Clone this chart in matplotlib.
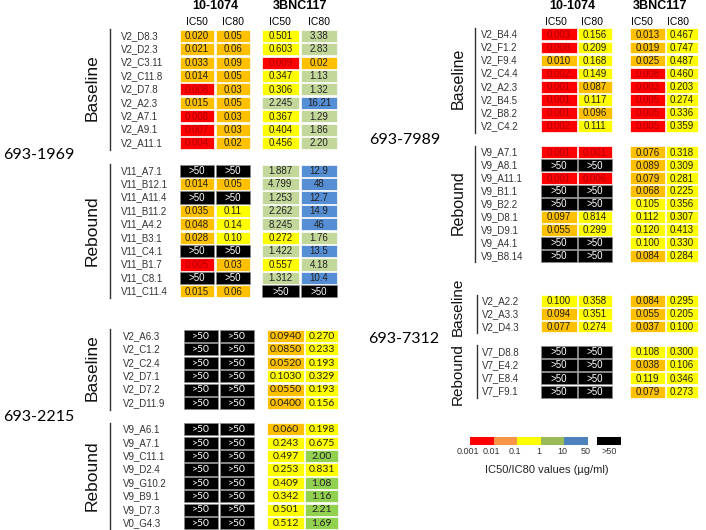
import matplotlib
matplotlib.use("Agg")
import matplotlib.pyplot as plt
from matplotlib.patches import Rectangle

# ---------------- data ----------------
p1969_base_names = ["V2_D8.3", "V2_D2.3", "V2_C3.11", "V2_C11.8", "V2_D7.8", "V2_A2.3", "V2_A7.1", "V2_A9.1", "V2_A11.1"]
p1969_base_1074_ic50 = ["0.020", "0.021", "0.033", "0.014", "0.008", "0.015", "0.008", "0.007", "0.004"]
p1969_base_1074_ic80 = ["0.05", "0.06", "0.09", "0.05", "0.03", "0.05", "0.03", "0.03", "0.02"]
p1969_base_3bnc_ic50 = ["0.501", "0.603", "0.009", "0.347", "0.306", "2.245", "0.367", "0.404", "0.456"]
p1969_base_3bnc_ic80 = ["3.38", "2.83", "0.02", "1.13", "1.32", "16.21", "1.29", "1.86", "2.20"]

p1969_reb_names = ["V11_A7.1", "V11_B12.1", "V11_A11.4", "V11_B11.2", "V11_A4.2", "V11_B3.1", "V11_C4.1", "V11_B1.7", "V11_C8.1", "V11_C11.4"]
p1969_reb_1074_ic50 = [">50", "0.014", ">50", "0.035", "0.048", "0.028", ">50", "0.005", ">50", "0.015"]
p1969_reb_1074_ic80 = [">50", "0.05", ">50", "0.11", "0.14", "0.10", ">50", "0.03", ">50", "0.06"]
p1969_reb_3bnc_ic50 = ["1.887", "4.799", "1.253", "2.262", "8.245", "0.272", "1.422", "0.557", "1.312", ">50"]
p1969_reb_3bnc_ic80 = ["12.9", "48", "12.7", "14.9", "46", "1.76", "13.5", "4.18", "10.4", ">50"]

p2215_base_names = ["V2_A6.3", "V2_C1.2", "V2_C2.4", "V2_D7.1", "V2_D7.2", "V2_D11.9"]
p2215_base_1074_ic50 = [">50"] * 6
p2215_base_1074_ic80 = [">50"] * 6
p2215_base_3bnc_ic50 = ["0.0940", "0.0850", "0.0520", "0.1030", "0.0550", "0.0400"]
p2215_base_3bnc_ic80 = ["0.270", "0.233", "0.193", "0.329", "0.193", "0.156"]

p2215_reb_names = ["V9_A6.1", "V9_A7.1", "V9_C11.1", "V9_D2.4", "V9_G10.2", "V9_B9.1", "V9_D7.3", "V0_G4.3"]
p2215_reb_1074_ic50 = [">50"] * 8
p2215_reb_1074_ic80 = [">50"] * 8
p2215_reb_3bnc_ic50 = ["0.060", "0.243", "0.497", "0.253", "0.409", "0.342", "0.501", "0.512"]
p2215_reb_3bnc_ic80 = ["0.198", "0.675", "2.00", "0.831", "1.08", "1.16", "2.21", "1.69"]

p7989_base_names = ["V2_B4.4", "V2_F1.2", "V2_F9.4", "V2_C4.4", "V2_A2.3", "V2_B4.5", "V2_B8.2", "V2_C4.2"]
p7989_base_1074_ic50 = ["0.003", "0.008", "0.010", "0.002", "0.001", "0.001", "0.001", "0.002"]
p7989_base_1074_ic80 = ["0.156", "0.209", "0.168", "0.149", "0.087", "0.117", "0.096", "0.111"]
p7989_base_3bnc_ic50 = ["0.013", "0.019", "0.025", "0.008", "0.003", "0.005", "0.005", "0.005"]
p7989_base_3bnc_ic80 = ["0.467", "0.747", "0.487", "0.460", "0.203", "0.274", "0.336", "0.359"]

p7989_reb_names = ["V9_A7.1", "V9_A8.1", "V9_A11.1", "V9_B1.1", "V9_B2.2", "V9_D8.1", "V9_D9.1", "V9_A4.1", "V9_B8.14"]
p7989_reb_1074_ic50 = ["0.001", ">50", "0.001", ">50", ">50", "0.097", "0.055", ">50", ">50"]
p7989_reb_1074_ic80 = ["0.001", ">50", "0.006", ">50", ">50", "0.814", "0.299", ">50", ">50"]
p7989_reb_3bnc_ic50 = ["0.076", "0.089", "0.079", "0.068", "0.105", "0.112", "0.120", "0.100", "0.084"]
p7989_reb_3bnc_ic80 = ["0.318", "0.309", "0.281", "0.225", "0.356", "0.307", "0.413", "0.330", "0.284"]

p7312_base_names = ["V2_A2.2", "V2_A3.3", "V2_D4.3"]
p7312_base_1074_ic50 = ["0.100", "0.094", "0.077"]
p7312_base_1074_ic80 = ["0.358", "0.351", "0.274"]
p7312_base_3bnc_ic50 = ["0.084", "0.055", "0.037"]
p7312_base_3bnc_ic80 = ["0.295", "0.205", "0.100"]

p7312_reb_names = ["V7_D8.8", "V7_E4.2", "V7_E8.4", "V7_F9.1"]
p7312_reb_1074_ic50 = [">50"] * 4
p7312_reb_1074_ic80 = [">50"] * 4
p7312_reb_3bnc_ic50 = ["0.108", "0.038", "0.119", "0.079"]
p7312_reb_3bnc_ic80 = ["0.300", "0.106", "0.346", "0.273"]

antibodies = ["10-1074", "3BNC117"]
measures = ["IC50", "IC80"]
legend_ticks = ["0.001", "0.01", "0.1", "1", "10", "50"]
legend_title = "IC50/IC80 values (\u00b5g/ml)"

# ---------------- style ----------------
ARIAL = "Liberation Sans"
CALIBRI = "Lato"
RED, ORANGE, YELLOW, BLUE, BLACK = "#FF0000", "#FFC000", "#FFFF00", "#558ED5", "#000000"
PALE_GREEN, BRIGHT_GREEN = "#C4D79B", "#92D050"
LEG_COLORS = ["#FF0000", "#F79646", "#FFFF00", "#9BBB59", "#4F81BD"]


def cell_style(s, green):
    if s.startswith(">"):
        return BLACK, "white"
    v = float(s)
    if v < 0.01:
        return RED, "#B00000"
    if v < 0.1:
        return ORANGE, "#222222"
    if v < 1:
        return YELLOW, "#222222"
    if v < 10:
        return green, "#222222"
    return BLUE, "#222222"


fig = plt.figure(figsize=(7.06, 5.30), dpi=100)
ax = fig.add_axes([0, 0, 1, 1])
ax.set_xlim(0, 706)
ax.set_ylim(530, 0)
ax.axis("off")


def draw_group(names, cols, y0, dy, label_x, cells, line_x, glabel, glabel_x, glabel_y,
               green=PALE_GREEN, cfont=ARIAL, cfs=7, gfs=12):
    ch = dy - 1.3
    for i, nm in enumerate(names):
        y = y0 + i * dy
        ax.text(label_x, y, nm, ha="left", va="center", fontsize=7, family=ARIAL, color="#333333")
        for col, (cx, cw) in zip(cols, cells):
            fc, tc = cell_style(col[i], green)
            ec = "#888888" if fc == BLACK else "white"
            ax.add_patch(Rectangle((cx, y - ch / 2), cw, ch, facecolor=fc, edgecolor=ec, lw=0.5))
            ax.text(cx + cw / 2, y + 0.3, col[i], ha="center", va="center", fontsize=cfs,
                    family=cfont, color=tc)
    ax.plot([line_x, line_x], [y0 - dy / 2, y0 + (len(names) - 0.5) * dy], color="#333333", lw=1.0)
    ax.text(glabel_x, glabel_y, glabel, rotation=90, ha="center", va="center", fontsize=gfs,
            family=ARIAL, color="#111111")


left_cells = [(180, 34), (216, 34), (262, 37), (301, 36)]
mid_cells = [(184, 34), (220, 34), (267, 37), (305, 33)]
right_cells = [(541, 36), (578, 34), (630, 35), (666, 32)]

# headers
for cx_ab, cxs, yh in [((215, 300), (197, 233, 280, 319), 6), ((572, 660), (556, 592, 642, 678), 6)]:
    for ab, x in zip(antibodies, cx_ab):
        ax.text(x, yh, ab, ha="center", va="center", fontsize=9, fontweight="bold", family=ARIAL)
    for j, x in enumerate(cxs):
        ax.text(x, 22, measures[j % 2], ha="center", va="center", fontsize=7.5, family=ARIAL)

# 693-1969
draw_group(p1969_base_names, [p1969_base_1074_ic50, p1969_base_1074_ic80, p1969_base_3bnc_ic50, p1969_base_3bnc_ic80],
           35.8, 13.4, 121, left_cells, 110, "Baseline", 92, 88, gfs=12.5)
draw_group(p1969_reb_names, [p1969_reb_1074_ic50, p1969_reb_1074_ic80, p1969_reb_3bnc_ic50, p1969_reb_3bnc_ic80],
           170.7, 13.4, 121, left_cells, 110, "Rebound", 92, 231, gfs=12.5)
ax.text(39, 155, "693-1969", ha="center", va="center", fontsize=11.5, family=CALIBRI)

# 693-2215
draw_group(p2215_base_names, [p2215_base_1074_ic50, p2215_base_1074_ic80, p2215_base_3bnc_ic50, p2215_base_3bnc_ic80],
           336, 13.4, 123, mid_cells, 110, "Baseline", 92, 368, green=BRIGHT_GREEN, cfont=CALIBRI, cfs=7.5, gfs=12.5)
draw_group(p2215_reb_names, [p2215_reb_1074_ic50, p2215_reb_1074_ic80, p2215_reb_3bnc_ic50, p2215_reb_3bnc_ic80],
           429.3, 13.4, 123, mid_cells, 110, "Rebound", 92, 476, green=BRIGHT_GREEN, cfont=CALIBRI, cfs=7.5, gfs=12.5)
ax.text(39, 417, "693-2215", ha="center", va="center", fontsize=11.5, family=CALIBRI)

# 693-7989
draw_group(p7989_base_names, [p7989_base_1074_ic50, p7989_base_1074_ic80, p7989_base_3bnc_ic50, p7989_base_3bnc_ic80],
           34.3, 13.1, 481, right_cells, 475, "Baseline", 458, 78, gfs=11.5)
draw_group(p7989_reb_names, [p7989_reb_1074_ic50, p7989_reb_1074_ic80, p7989_reb_3bnc_ic50, p7989_reb_3bnc_ic80],
           152.3, 12.96, 481, right_cells, 475, "Rebound", 458, 203, gfs=11.5)
ax.text(405, 140, "693-7989", ha="center", va="center", fontsize=11.5, family=CALIBRI)

# 693-7312
draw_group(p7312_base_names, [p7312_base_1074_ic50, p7312_base_1074_ic80, p7312_base_3bnc_ic50, p7312_base_3bnc_ic80],
           301, 12.85, 482, right_cells, 477, "Baseline", 458, 307, gfs=11)
draw_group(p7312_reb_names, [p7312_reb_1074_ic50, p7312_reb_1074_ic80, p7312_reb_3bnc_ic50, p7312_reb_3bnc_ic80],
           351.7, 13.3, 482, right_cells, 477, "Rebound", 458, 374, gfs=11)
ax.text(404, 339, "693-7312", ha="center", va="center", fontsize=11.5, family=CALIBRI)

# legend
lx0, lx1, ly, lh = 470, 588, 437, 8
seg = (lx1 - lx0) / len(LEG_COLORS)
for k, c in enumerate(LEG_COLORS):
    ax.add_patch(Rectangle((lx0 + k * seg, ly), seg, lh, facecolor=c, edgecolor="none"))
ax.add_patch(Rectangle((597, ly), 24, lh, facecolor="black", edgecolor="none"))
for k, t in enumerate(legend_ticks):
    ax.text(lx0 + k * seg - 2, 452, t, ha="center", va="center", fontsize=6.5, family=ARIAL, color="#333333")
ax.text(609, 452, ">50", ha="center", va="center", fontsize=6.5, family=ARIAL, color="#333333")
ax.text(547, 470, legend_title, ha="center", va="center", fontsize=8, family=ARIAL, color="#222222")

fig.savefig("out.png", dpi=100)
